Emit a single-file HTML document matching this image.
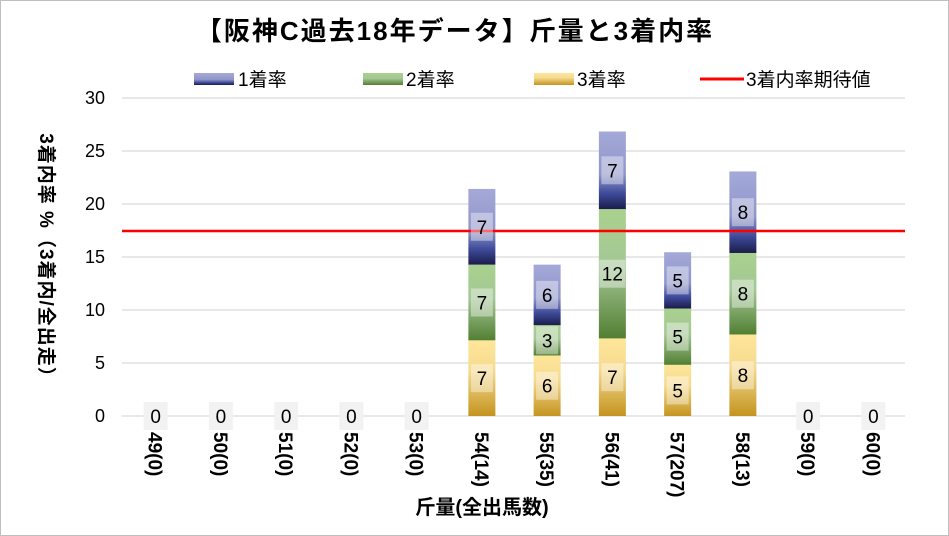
<!DOCTYPE html>
<html><head><meta charset="utf-8">
<style>
html,body{margin:0;padding:0;background:#fff;}
svg{display:block;font-family:"Liberation Sans","Noto Sans CJK JP",sans-serif;}
</style></head>
<body>
<svg id="s" width="949" height="536" xmlns="http://www.w3.org/2000/svg">
<defs>
<linearGradient id="g1" x1="0" y1="0" x2="0" y2="1">
<stop offset="0" stop-color="#a4a9d9"/><stop offset="0.55" stop-color="#9096c9"/><stop offset="0.8" stop-color="#3e4a9a"/><stop offset="1" stop-color="#1a1d4a"/></linearGradient>
<linearGradient id="g2" x1="0" y1="0" x2="0" y2="1">
<stop offset="0" stop-color="#a9d18e"/><stop offset="0.45" stop-color="#a4c795"/><stop offset="1" stop-color="#527f33"/></linearGradient>
<linearGradient id="g3" x1="0" y1="0" x2="0" y2="1">
<stop offset="0" stop-color="#ffe699"/><stop offset="0.4" stop-color="#f5da90"/><stop offset="1" stop-color="#c4941f"/></linearGradient>
</defs>
<rect x="0.5" y="0.5" width="948" height="535" fill="#fff" stroke="#bfbfbf"/>
<text x="455" y="40" font-size="26" font-weight="bold" text-anchor="middle" letter-spacing="2">【阪神C過去18年データ】斤量と3着内率</text>
<rect x="194" y="73" width="40" height="12" fill="url(#g1)"/><text x="238" y="86" font-size="19">1着率</text>
<rect x="363" y="73" width="40" height="12" fill="url(#g2)"/><text x="406" y="86" font-size="19">2着率</text>
<rect x="534" y="73" width="40" height="12" fill="url(#g3)"/><text x="577" y="86" font-size="19">3着率</text>
<line x1="700" y1="79" x2="744" y2="79" stroke="#ff0000" stroke-width="3"/><text x="746" y="86" font-size="19">3着内率期待値</text>
<g id="grid"></g>
<g id="bars"></g>
<line x1="122" y1="231" x2="905" y2="231" stroke="#ff0000" stroke-width="2.5"/>
<g id="labels"></g>
<text transform="translate(40,260) rotate(90)" font-size="19" font-weight="bold" text-anchor="middle" letter-spacing="1">3着内率 %（3着内/全出走）</text>
<text x="482" y="514" font-size="20" font-weight="bold" text-anchor="middle">斤量(全出馬数)</text>
</svg>
<script>
var NS="http://www.w3.org/2000/svg";
function el(p,t,a,txt){var e=document.createElementNS(NS,t);for(var k in a)e.setAttribute(k,a[k]);if(txt!=null)e.textContent=txt;document.getElementById(p).appendChild(e);return e;}
function Y(v){return 416-10.6*v;}
for(var v=0;v<=30;v+=5){el("grid","line",{x1:122,x2:905,y1:Y(v),y2:Y(v),stroke:"#d9d9d9","stroke-width":1.3});
el("grid","text",{x:105,y:Y(v)+6,"font-size":18,"text-anchor":"end"},String(v));}
var cats=["49(0)","50(0)","51(0)","52(0)","53(0)","54(14)","55(35)","56(41)","57(207)","58(13)","59(0)","60(0)"];
var data={5:[[7.14,"7"],[7.14,"7"],[7.14,"7"]],6:[[5.71,"6"],[2.86,"3"],[5.71,"6"]],7:[[7.32,"7"],[12.2,"12"],[7.32,"7"]],8:[[4.83,"5"],[5.31,"5"],[5.31,"5"]],9:[[7.69,"8"],[7.69,"8"],[7.69,"8"]]};
for(var i=0;i<12;i++){
 var c=122+65.25*(i+0.5)+1;
 el("labels","text",{transform:"translate("+(c-7)+",432) rotate(90)","font-size":19,"font-weight":"bold"},cats[i]);
 if(data[i]){
  var base=0,gs=["g3","g2","g1"];
  for(var j=0;j<3;j++){
   var d=data[i][j],y0=Y(base),y1=Y(base+d[0]);
   el("bars","rect",{x:c-13.5,y:y1,width:27,height:y0-y1,fill:"url(#"+gs[j]+")"});
   var m=(y0+y1)/2,w=d[1].length>1?26:22;
   el("labels","rect",{x:c-w/2,y:m-14,width:w,height:28,fill:"#fff","fill-opacity":0.4});
   el("labels","text",{x:c,y:m+7,"font-size":19,"text-anchor":"middle"},d[1]);
   base+=d[0];
  }
 } else {
  el("labels","rect",{x:c-12,y:402,width:24,height:28,fill:"#f2f2f2"});
  el("labels","text",{x:c,y:423,"font-size":19,"text-anchor":"middle"},"0");
 }
}
</script>
</body></html>
